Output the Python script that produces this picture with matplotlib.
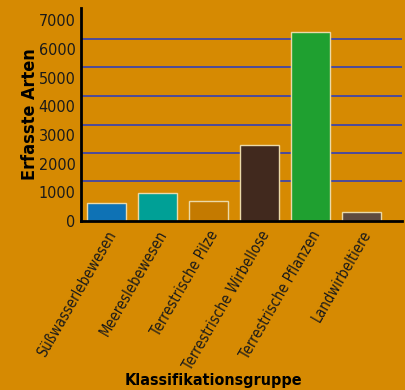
#!/usr/bin/env python3

import matplotlib
matplotlib.use("Agg")
import matplotlib.pyplot as plt

groups = ["Süßwasserlebewesen", "Meereslebewesen", "Terrestrische Pilze",
          "Terrestrische Wirbellose", "Terrestrische Pflanzen", "Landwirbeltiere"]
species = [630, 960, 700, 2660, 6590, 330]
bar_colors = ["#0E72B5", "#00A096", "#C47A00", "#41291E", "#1FA030", "#5E4A40"]
y_ticks = [0, 1000, 2000, 3000, 4000, 5000, 6000, 7000]
grid_values = [1390, 2370, 3350, 4360, 5370, 6350]

bg = "#D68A02"
font = ["DejaVu Sans"]


def main():
    fig = plt.figure(figsize=(4.06, 3.90), dpi=100, facecolor=bg)
    ax = fig.add_axes([0.1995, 0.4333, 0.7905, 0.5457], facecolor=bg)

    for g in grid_values:
        ax.axhline(g, color="#3440B4", lw=1.2, zorder=1)

    x = list(range(len(groups)))
    ax.bar(x, species, width=0.76, color=bar_colors,
           edgecolor="#EBD9A8", linewidth=1.0, zorder=2)

    ax.set_xlim(-0.5, 5.8)
    ax.set_ylim(0, 7420)
    ax.set_yticks(y_ticks)
    ax.set_yticklabels([str(v) for v in y_ticks], family=font,
                       stretch="condensed", fontsize=11.5, color="#1A1A1A")
    ax.set_xticks(x)
    ax.set_xticklabels(groups, rotation=60, ha="right", rotation_mode="anchor",
                       family=font, stretch="condensed", fontsize=10.5,
                       color="#1A1A1A")
    ax.tick_params(axis="y", length=0, pad=4)
    ax.tick_params(axis="x", length=0, pad=5)

    for side in ["top", "right"]:
        ax.spines[side].set_visible(False)
    for side in ["left", "bottom"]:
        ax.spines[side].set_linewidth(2)
        ax.spines[side].set_color("black")
        ax.spines[side].set_zorder(3)

    ax.set_ylabel("Erfasste Arten", family=font, stretch="condensed",
                  fontsize=13, fontweight="bold", labelpad=0)
    fig.text(0.525, 0.024, "Klassifikationsgruppe", family=font,
             stretch="condensed", fontsize=11.5, fontweight="bold",
             ha="center", va="center")

    fig.savefig("out.png", dpi=100, facecolor=bg)


if __name__ == "__main__":
    main()
